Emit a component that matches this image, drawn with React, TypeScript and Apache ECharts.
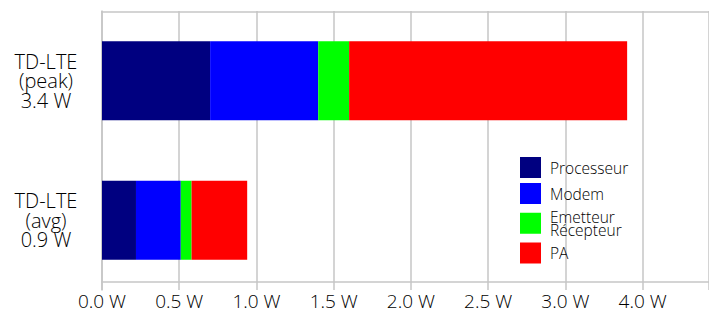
import React, { useEffect, useRef } from "react";
import * as echarts from "echarts";

const categories = ["TD-LTE\n(peak)\n3.4 W", "TD-LTE\n(avg)\n0.9 W"];
const processeur = [0.7, 0.22];
const modem = [0.7, 0.29];
const emetteur = [0.2, 0.07];
const pa = [1.8, 0.36];
const tickLabels = ["0.0 W", "0.5 W", "1.0 W", "1.5 W", "2.0 W", "2.5 W", "3.0 W", "4.0 W"];

const seriesNames = ["Processeur", "Modem", "Emetteur\nRécepteur", "PA"];
const seriesColors = ["#000080", "#0000ff", "#00ff00", "#ff0000"];
const seriesData = [processeur, modem, emetteur, pa];

const FONT = "'Open Sans', 'DejaVu Sans', sans-serif";
const WEIGHT = 300;
const TEXT_COLOR = "#000";
const GRID_COLOR = "#c6c6c6";

export default function App() {
  const ref = useRef<HTMLDivElement>(null);
  useEffect(() => {
    if (!ref.current) return;
    const chart = echarts.init(ref.current, null, { renderer: "svg" });
    chart.setOption({
      animation: false,
      textStyle: { fontFamily: FONT, fontWeight: WEIGHT },
      grid: { left: 102, right: 0, top: 11, bottom: 24, containLabel: false },
      legend: {
        orient: "vertical",
        left: 520,
        top: 157,
        padding: 0,
        itemWidth: 21,
        itemHeight: 21,
        itemGap: 5,
        icon: "rect",
        data: seriesNames,
        textStyle: {
          fontFamily: FONT,
          fontWeight: WEIGHT,
          fontSize: 15.5,
          lineHeight: 12.5,
          color: TEXT_COLOR,
          padding: [0, 0, 0, 4],
        },
      },
      xAxis: [
        {
          type: "value",
          position: "bottom",
          min: 0,
          max: 3.93,
          interval: 0.5,
          offset: -8,
          axisLine: { show: true, lineStyle: { color: GRID_COLOR, width: 1.5 } },
          axisTick: { show: false },
          axisLabel: {
            margin: 10,
            fontFamily: FONT,
            fontWeight: WEIGHT,
            fontSize: 19,
            lineHeight: 18,
            color: TEXT_COLOR,
            showMaxLabel: false,
            formatter: (v: number) => tickLabels[Math.round(v / 0.5)] ?? "",
          },
          splitLine: { show: true, lineStyle: { color: GRID_COLOR, width: 1.5 } },
        },
        {
          type: "value",
          position: "top",
          min: 0,
          max: 3.93,
          interval: 0.5,
          offset: -1,
          axisLine: { show: true, lineStyle: { color: GRID_COLOR, width: 1.5 } },
          axisTick: { show: false },
          axisLabel: { show: false },
          splitLine: { show: false },
        },
      ],
      yAxis: {
        type: "category",
        inverse: true,
        data: categories,
        axisLine: { show: true, lineStyle: { color: GRID_COLOR, width: 1.5 } },
        axisTick: { show: false },
        axisLabel: {
          margin: 56,
          align: "center",
          fontFamily: FONT,
          fontWeight: WEIGHT,
          fontSize: 20,
          lineHeight: 19.5,
          color: TEXT_COLOR,
        },
      },
      series: seriesNames.map((name, i) => ({
        name,
        type: "bar",
        stack: "total",
        xAxisIndex: 0,
        barWidth: 79,
        itemStyle: { color: seriesColors[i] },
        data: seriesData[i],
      })),
    });
    return () => chart.dispose();
  }, []);
  return (
    <div
      ref={ref}
      style={{ position: "fixed", left: 0, top: 0, width: 709, height: 314, background: "#fff" }}
    />
  );
}
